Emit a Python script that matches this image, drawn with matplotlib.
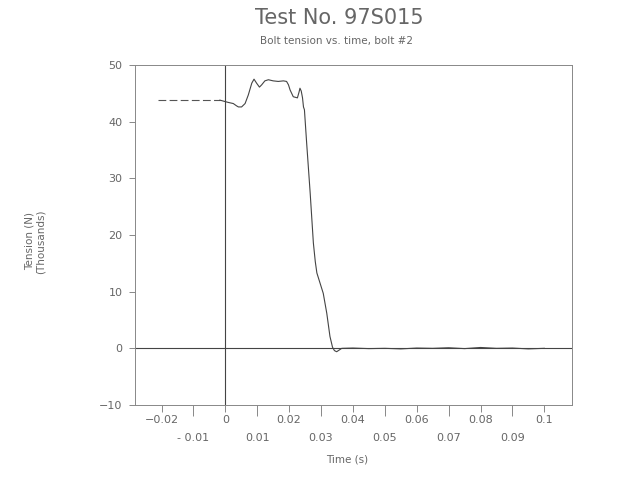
import matplotlib
matplotlib.use("Agg")
import matplotlib.pyplot as plt
from matplotlib.ticker import FixedLocator, FixedFormatter

# Pre-trigger (dashed) portion
pre_time = [-0.021, -0.0017]
pre_tension = [43.8, 43.8]

# Main trace
time = [-0.0017, 0.0009, 0.0025, 0.0035, 0.0041, 0.0051, 0.0062, 0.0072, 0.0083, 0.0090,
        0.0098, 0.0107, 0.0114, 0.0124, 0.0135, 0.0150, 0.0166, 0.0182, 0.0192,
        0.0198, 0.0203, 0.0213, 0.0226, 0.0231, 0.0234, 0.0238, 0.0242, 0.0245, 0.0248,
        0.0255, 0.0266, 0.0276, 0.0282, 0.0287, 0.0297, 0.0307, 0.0318, 0.0328,
        0.0336, 0.0342, 0.0349, 0.0357, 0.0365,
        0.040, 0.045, 0.050, 0.055, 0.060, 0.065, 0.070, 0.075, 0.080, 0.085,
        0.090, 0.095, 0.100]
tension = [43.8, 43.4, 43.2, 42.8, 42.6, 42.6, 43.2, 44.7, 46.8, 47.5,
           46.8, 46.1, 46.5, 47.2, 47.4, 47.2, 47.1, 47.2, 47.1,
           46.5, 45.6, 44.4, 44.2, 45.2, 45.9, 45.4, 44.2, 42.6, 42.1,
           36.2, 27.4, 18.6, 15.3, 13.3, 11.5, 9.7, 6.2, 2.1,
           0.2, -0.4, -0.6, -0.3, 0.0,
           0.05, -0.05, 0.0, -0.1, 0.05, 0.0, 0.1, -0.05, 0.15, 0.0,
           0.05, -0.1, 0.0]

title = "Test No. 97S015"
subtitle = "Bolt tension vs. time, bolt #2"
xlabel = "Time (s)"
ylabel = "Tension (N)\n(Thousands)"

y_ticks = [-10, 0, 10, 20, 30, 40, 50]
x_major = [-0.02, 0.0, 0.02, 0.04, 0.06, 0.08, 0.1]
x_major_labels = ["\u22120.02", "0", "0.02", "0.04", "0.06", "0.08", "0.1"]
x_minor = [-0.01, 0.01, 0.03, 0.05, 0.07, 0.09]
x_minor_labels = ["- 0.01", "0.01", "0.03", "0.05", "0.07", "0.09"]

tc = "#666666"
fig = plt.figure(figsize=(6.28, 4.79), dpi=100)
ax = fig.add_axes([0.215, 0.1545, 0.696, 0.7098])

ax.plot(pre_time, pre_tension, color="#555555", lw=0.8, linestyle=(0, (7, 3)))
ax.plot(time, tension, color="#444444", lw=0.8)
ax.axhline(0, color="#444444", lw=0.8)
ax.axvline(0, color="#444444", lw=0.8)

ax.set_xlim(-0.0283, 0.1087)
ax.set_ylim(-10, 50)

ax.set_yticks(y_ticks)
ax.tick_params(axis="y", direction="out", length=4, width=0.7, colors="#888888",
               labelcolor=tc, labelsize=8, pad=5)

ax.xaxis.set_major_locator(FixedLocator(x_major))
ax.xaxis.set_major_formatter(FixedFormatter(x_major_labels))
ax.xaxis.set_minor_locator(FixedLocator(x_minor))
ax.xaxis.set_minor_formatter(FixedFormatter(x_minor_labels))
ax.tick_params(axis="x", which="major", direction="out", length=5, width=0.7,
               colors="#888888", labelcolor=tc, labelsize=8, pad=2)
ax.tick_params(axis="x", which="minor", direction="out", length=8, width=0.7,
               colors="#888888", labelcolor=tc, labelsize=8, pad=12)

for s in ax.spines.values():
    s.set_color("#888888")
    s.set_linewidth(0.7)

fig.text(0.541, 0.962, title, ha="center", va="center", fontsize=15, color=tc)
fig.text(0.536, 0.914, subtitle, ha="center", va="center", fontsize=7.5, color=tc)
fig.text(0.552, 0.040, xlabel, ha="center", va="center", fontsize=7.5, color=tc)
fig.text(0.056, 0.496, ylabel, ha="center", va="center", fontsize=7.5, color=tc,
         rotation=90, linespacing=1.1)

fig.savefig("out.png", dpi=100, facecolor="white")
